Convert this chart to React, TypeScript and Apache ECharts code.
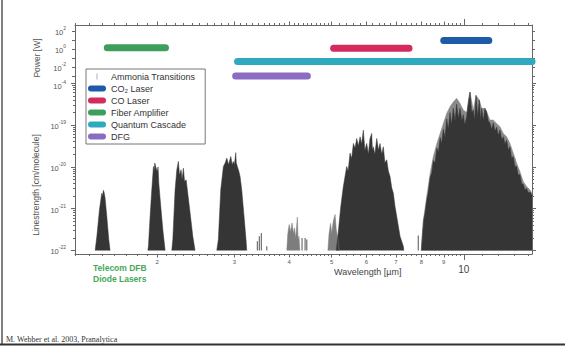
import React, { useEffect, useRef } from 'react';
import * as echarts from 'echarts';

const lg = Math.log10;
const FONT = 'Liberation Sans, Arial, sans-serif';

// ---- Axes ----
const WL_MIN = 1.3; // µm
const WL_MAX = 14.3; // µm
const wlLabelTicks = [2, 3, 4, 5, 6, 7, 8, 9, 10];
const wlMajorTicks = [2, 3, 4, 5, 6, 7, 8, 9];
const wlMinorTicks: number[] = [];
for (let i = 13; i <= 50; i++) wlMinorTicks.push(i / 10);
for (let i = 26; i <= 50; i++) wlMinorTicks.push(i / 5);
for (let i = 11; i <= 14; i++) wlMinorTicks.push(i);

const strengthLabelExp = [-22, -21, -20, -19];
const strengthMajorExp = [-22, -21, -20, -19, -18];
const strengthMinorExp: number[] = [];
for (let n = -22; n <= -19; n++) for (let k = 2; k <= 9; k++) strengthMinorExp.push(n + lg(k));

const powerLabelExp = [2, 0, -2, -4];
const powerTickExp = [2, 1, 0, -1, -2, -3, -4];

// ---- Ammonia transitions: [wavelength µm, log10 linestrength (cm/molecule)] ----
const nh3Band1_5 = [[1.445, -22], [1.458, -21.66], [1.478, -21.02], [1.496, -20.63], [1.502, -20.7], [1.509, -20.56], [1.515, -20.62], [1.522, -20.74], [1.536, -21.18], [1.552, -21.74], [1.563, -22]];
const nh3Band2_0 = [[1.905, -22], [1.911, -21.9], [1.928, -21.18], [1.945, -20.55], [1.962, -19.99], [1.969, -20.1], [1.976, -19.91], [1.99, -20.03], [2.003, -20.11], [2.01, -20.0], [2.018, -20.39], [2.039, -20.95], [2.061, -21.5], [2.086, -22]];
const nh3Band2_3 = [[2.16, -22], [2.172, -21.74], [2.198, -20.55], [2.218, -20.07], [2.236, -19.87], [2.25, -20.2], [2.268, -20.07], [2.28, -20.3], [2.296, -20.03], [2.31, -20.35], [2.329, -20.31], [2.344, -20.55], [2.378, -21.1], [2.412, -21.66], [2.441, -22]];
const nh3Band3_0 = [[2.735, -22], [2.758, -21.74], [2.793, -20.55], [2.832, -19.99], [2.86, -19.9], [2.883, -19.79], [2.91, -19.95], [2.944, -19.75], [2.965, -19.95], [2.984, -19.87], [3.0, -19.95], [3.022, -19.66], [3.03, -19.9], [3.047, -19.99], [3.07, -20.1], [3.091, -20.23], [3.118, -20.55], [3.156, -21.18], [3.189, -21.74], [3.201, -22]];
const nh3Band4_2 = [[3.95, -22], [3.97, -21.6], [4.0, -21.38], [4.03, -21.55], [4.06, -21.34], [4.09, -21.6], [4.11, -21.46], [4.14, -21.7], [4.175, -21.2], [4.19, -21.75], [4.21, -21.66], [4.23, -22]];
const nh3Band5_0 = [[4.9, -22], [4.93, -21.6], [4.97, -21.35], [5.0, -21.6], [5.04, -21.3], [5.088, -21.14], [5.12, -21.5], [5.16, -21.7], [5.2, -22]];
const nh3Band6_1 = [[5.12, -22], [5.17, -21.6], [5.243, -20.95], [5.314, -20.47], [5.409, -19.99], [5.45, -20.1], [5.504, -19.67], [5.55, -19.8], [5.602, -19.44], [5.65, -19.55], [5.702, -19.32], [5.75, -19.5], [5.802, -19.28], [5.85, -19.45], [5.902, -19.12], [5.95, -19.6], [6.008, -19.44], [6.06, -19.7], [6.112, -19.32], [6.167, -19.2], [6.19, -19.6], [6.219, -19.52], [6.27, -19.7], [6.332, -19.32], [6.39, -19.6], [6.442, -19.44], [6.5, -19.7], [6.554, -19.52], [6.61, -19.9], [6.672, -19.83], [6.73, -20.1], [6.79, -20.23], [6.85, -20.5], [6.909, -20.63], [6.97, -20.95], [7.031, -21.18], [7.155, -21.66], [7.28, -21.9], [7.3, -22]];
const nh3Band10Light = [[8.0, -22], [8.03, -21.7], [8.09, -21.26], [8.23, -20.71], [8.38, -20.15], [8.52, -19.75], [8.68, -19.44], [8.83, -19.2], [8.98, -18.96], [9.14, -18.72], [9.3, -18.56], [9.46, -18.45], [9.63, -18.36], [9.8, -18.48], [9.97, -18.64], [10.15, -18.7], [10.33, -18.21], [10.51, -18.64], [10.66, -18.29], [10.85, -18.4], [10.98, -18.6], [11.17, -18.6], [11.27, -18.68], [11.47, -18.88], [11.67, -18.88], [11.88, -18.96], [12.09, -19.04], [12.3, -19.2], [12.52, -19.28], [12.74, -19.44], [12.96, -19.67], [13.19, -19.91], [13.42, -20.11], [13.66, -20.35], [13.9, -20.47], [14.15, -20.55], [14.3, -20.63]];
const nh3Band10Dark = [[8.0, -22], [8.03, -21.75], [8.09, -21.3], [8.16, -21.1], [8.23, -20.8], [8.3, -20.6], [8.38, -20.25], [8.45, -20.15], [8.52, -19.85], [8.6, -19.9], [8.68, -19.55], [8.75, -19.65], [8.83, -19.3], [8.9, -19.45], [8.98, -19.1], [9.06, -19.3], [9.14, -18.85], [9.22, -19.1], [9.3, -18.7], [9.38, -19.0], [9.46, -18.6], [9.55, -18.9], [9.63, -18.5], [9.72, -18.85], [9.8, -18.6], [9.9, -18.9], [9.97, -18.75], [10.05, -19.0], [10.15, -18.8], [10.25, -18.4], [10.33, -18.21], [10.42, -18.7], [10.51, -18.64], [10.58, -18.9], [10.66, -18.29], [10.75, -18.8], [10.85, -18.4], [10.92, -18.9], [10.98, -18.6], [11.08, -18.9], [11.17, -18.6], [11.27, -18.68], [11.37, -18.9], [11.47, -18.95], [11.57, -19.1], [11.67, -18.95], [11.78, -19.15], [11.88, -19.05], [11.98, -19.25], [12.09, -19.12], [12.2, -19.35], [12.3, -19.28], [12.41, -19.45], [12.52, -19.36], [12.63, -19.6], [12.74, -19.52], [12.85, -19.8], [12.96, -19.75], [13.08, -20.0], [13.19, -19.98], [13.3, -20.2], [13.42, -20.18], [13.54, -20.4], [13.66, -20.42], [13.78, -20.55], [13.9, -20.52], [14.02, -20.62], [14.15, -20.6], [14.3, -20.68]];
const nh3LightStripes = [[8.6, -19.7], [8.9, -19.25], [9.22, -18.85], [9.38, -18.7], [9.55, -18.55], [9.72, -18.5], [9.9, -18.6], [11.78, -19.0], [12.2, -19.2], [12.63, -19.42], [13.08, -19.8]];
const nh3IsolatedLines = [[3.385, -21.78], [3.42, -21.66], [3.456, -21.58], [3.556, -21.9], [4.279, -21.7], [4.348, -21.7], [4.386, -21.74], [7.874, -21.64]];
const nh3Gaps = [[10.15, -18.75], [11.37, -18.95]];

// ---- Laser sources ----
const laserNames = ['CO\u2082 Laser', 'CO Laser', 'Fiber Amplifier', 'Quantum Cascade', 'DFG'];
const laserStartUm = [9.0, 5.05, 1.54, 3.05, 3.02];
const laserEndUm = [11.4, 7.5, 2.09, 14.3, 4.4];
const laserPowerW = [9, 1.2, 1.4, 0.04, 0.001];
const laserColors = ['#1d5ba8', '#d42a5c', '#3d9f5b', '#2ea9bd', '#8a6cc2'];

// ---- Layout constants ----
const STRENGTH_MIN = -22.084;
const STRENGTH_MAX = -16.606;
const POWER_MIN = -6;
const POWER_MAX = 2.667;
const DARK = '#353535';
const GREY = '#8a8a8a';
const AXIS = '#666';

const pill = 'path://M3,0 L15,0 A3,3 0 0 1 15,6 L3,6 A3,3 0 0 1 3,0 Z';

function buildOption() {
  const toLog = (arr: number[][]) => arr.map(([w, s]) => [lg(w), s]);
  const area = (data: number[][], color: string) => ({
    type: 'line', name: 'Ammonia Transitions', xAxisIndex: 0, yAxisIndex: 0,
    data: toLog(data), symbol: 'none', silent: true, color,
    lineStyle: { color, width: 0.5 },
    areaStyle: { color, opacity: 1, origin: -22 },
  });
  const sticks = (data: number[][], color: string, width: number) => ({
    type: 'custom', name: 'Ammonia Transitions', xAxisIndex: 0, yAxisIndex: 0, silent: true,
    data: toLog(data),
    renderItem: (_p: any, api: any) => {
      const x = api.value(0);
      const y = api.value(1);
      const a = api.coord([x, -22]);
      const b = api.coord([x, y]);
      return { type: 'line', shape: { x1: a[0], y1: a[1], x2: b[0], y2: b[1] }, style: { stroke: color, lineWidth: width } };
    },
  });
  const wlAxisBase = { type: 'value', gridIndex: 0, min: lg(WL_MIN), max: lg(WL_MAX), splitLine: { show: false } };
  const supRich = {
    b: { fontSize: 7.5, color: '#555', fontFamily: FONT, verticalAlign: 'bottom', lineHeight: 11 },
    s: { fontSize: 5, color: '#555', fontFamily: FONT, verticalAlign: 'top', lineHeight: 11 },
  };

  const series: any[] = [
    area(nh3Band1_5, DARK), area(nh3Band2_0, DARK), area(nh3Band2_3, DARK), area(nh3Band3_0, DARK),
    area(nh3Band4_2, '#7d7d7d'), area(nh3Band5_0, '#7d7d7d'), area(nh3Band6_1, DARK),
    area(nh3Band10Light, GREY), area(nh3Band10Dark, DARK),
    sticks(nh3LightStripes, '#9c9c9c', 1.4),
    sticks(nh3IsolatedLines, '#6f6f6f', 1.2),
    sticks(nh3Gaps, '#ffffff', 1.6),
  ];
  laserNames.forEach((name, i) => {
    series.push({
      type: 'line', name, xAxisIndex: 6, yAxisIndex: 4, symbol: 'none', clip: false, silent: true,
      color: laserColors[i],
      data: [[lg(laserStartUm[i]), lg(laserPowerW[i])], [lg(laserEndUm[i]), lg(laserPowerW[i])]],
      lineStyle: { color: laserColors[i], width: 7, cap: 'round' },
    });
  });

  return {
    animation: false,
    backgroundColor: '#fff',
    grid: [
      { left: 75, right: 33, top: 25, height: 229 },
      { left: 75, right: 33, top: 25, height: 78 },
    ],
    xAxis: [
      {
        ...wlAxisBase, position: 'bottom',
        axisLine: { lineStyle: { color: AXIS, width: 1 } },
        axisTick: { customValues: wlMinorTicks.map(lg), length: 2, lineStyle: { color: AXIS } },
        axisLabel: {
          customValues: wlLabelTicks.map(lg), margin: 5,
          formatter: (v: number) => { const n = Math.round(Math.pow(10, v)); return n === 10 ? '{big|10}' : `{sm|${n}}`; },
          rich: {
            sm: { fontSize: 6, color: '#555', fontFamily: FONT },
            big: { fontSize: 10, color: '#444', fontFamily: FONT, padding: [5, 0, 0, 0] },
          },
        },
      },
      { ...wlAxisBase, position: 'bottom', axisLine: { show: false }, axisLabel: { show: false }, axisTick: { customValues: wlMajorTicks.map(lg), length: 3.5, lineStyle: { color: AXIS } } },
      { ...wlAxisBase, position: 'bottom', axisLine: { show: false }, axisLabel: { show: false }, axisTick: { customValues: [lg(10)], length: 6, lineStyle: { color: AXIS } } },
      { ...wlAxisBase, position: 'top', axisLine: { lineStyle: { color: AXIS, width: 1 } }, axisLabel: { show: false }, axisTick: { customValues: wlMinorTicks.map(lg), length: 2, lineStyle: { color: AXIS } } },
      { ...wlAxisBase, position: 'top', axisLine: { show: false }, axisLabel: { show: false }, axisTick: { customValues: wlMajorTicks.map(lg), length: 3.5, lineStyle: { color: AXIS } } },
      { ...wlAxisBase, position: 'top', axisLine: { show: false }, axisLabel: { show: false }, axisTick: { customValues: [lg(10)], length: 6, lineStyle: { color: AXIS } } },
      { ...wlAxisBase, gridIndex: 1, show: false },
    ],
    yAxis: [
      {
        type: 'value', gridIndex: 0, position: 'left', min: STRENGTH_MIN, max: STRENGTH_MAX, splitLine: { show: false },
        axisLine: { show: true, lineStyle: { color: AXIS, width: 1 } },
        axisTick: { customValues: strengthMinorExp, length: 2, lineStyle: { color: AXIS } },
        axisLabel: { customValues: strengthLabelExp, margin: 9, formatter: (v: number) => `{b|10}{s|${Math.round(v)}}`, rich: supRich },
      },
      {
        type: 'value', gridIndex: 0, position: 'left', min: STRENGTH_MIN, max: STRENGTH_MAX, splitLine: { show: false },
        axisLine: { show: false }, axisLabel: { show: false },
        axisTick: { customValues: strengthMajorExp, length: 4, lineStyle: { color: AXIS } },
      },
      {
        type: 'value', gridIndex: 0, position: 'right', min: STRENGTH_MIN, max: STRENGTH_MAX, splitLine: { show: false },
        axisLine: { show: true, lineStyle: { color: AXIS, width: 1 } }, axisLabel: { show: false },
        axisTick: { customValues: strengthMinorExp, length: 2, lineStyle: { color: AXIS } },
      },
      {
        type: 'value', gridIndex: 0, position: 'right', min: STRENGTH_MIN, max: STRENGTH_MAX, splitLine: { show: false },
        axisLine: { show: false }, axisLabel: { show: false },
        axisTick: { customValues: strengthMajorExp, length: 4, lineStyle: { color: AXIS } },
      },
      {
        type: 'value', gridIndex: 1, position: 'left', min: POWER_MIN, max: POWER_MAX, splitLine: { show: false },
        axisLine: { show: false },
        axisTick: { customValues: powerTickExp, length: 3, lineStyle: { color: AXIS } },
        axisLabel: { customValues: powerLabelExp, margin: 9, formatter: (v: number) => `{b|10}{s|${Math.round(v)}}`, rich: supRich },
      },
      {
        type: 'value', gridIndex: 1, position: 'right', min: POWER_MIN, max: POWER_MAX, splitLine: { show: false },
        axisLine: { show: false }, axisLabel: { show: false },
        axisTick: { customValues: powerTickExp, length: 3, lineStyle: { color: AXIS } },
      },
    ],
    legend: {
      orient: 'vertical', left: 86, top: 69, selectedMode: false,
      backgroundColor: '#fff', borderColor: '#777', borderWidth: 1, borderRadius: 0,
      padding: [3, 10, 3, 2], itemGap: 3, itemWidth: 18, itemHeight: 6,
      textStyle: { fontSize: 9, color: '#333', fontFamily: FONT },
      data: [
        { name: 'Ammonia Transitions', icon: 'path://M0,0L1,0L1,8L0,8Z', itemStyle: { color: '#999', borderWidth: 0 } },
        ...laserNames.map((name, i) => ({ name, icon: pill, itemStyle: { color: laserColors[i], borderWidth: 0 } })),
      ],
    },
    graphic: [
      { type: 'line', shape: { x1: 2, y1: 0, x2: 2, y2: 344 }, style: { stroke: '#555', lineWidth: 1.5 } },
      { type: 'line', shape: { x1: 0, y1: 344.5, x2: 565, y2: 344.5 }, style: { stroke: '#333', lineWidth: 2 } },
      { type: 'text', x: 6, y: 339.5, style: { text: 'M. Webber et al. 2003, Pranalytica', font: '8px "Liberation Serif", "Times New Roman", serif', fill: '#333', verticalAlign: 'middle' } },
      { type: 'text', x: 93, y: 268, style: { text: 'Telecom DFB', font: 'bold 8.5px "Liberation Sans", Arial, sans-serif', fill: '#45a85a', verticalAlign: 'middle' } },
      { type: 'text', x: 93, y: 279, style: { text: 'Diode Lasers', font: 'bold 8.5px "Liberation Sans", Arial, sans-serif', fill: '#45a85a', verticalAlign: 'middle' } },
      { type: 'text', x: 334, y: 272, style: { text: 'Wavelength [\u00b5m]', font: '9px "Liberation Sans", Arial, sans-serif', fill: '#444', verticalAlign: 'middle' } },
      { type: 'text', x: 37, y: 58, rotation: Math.PI / 2, style: { text: 'Power [W]', font: '8.5px "Liberation Sans", Arial, sans-serif', fill: '#555', align: 'center', verticalAlign: 'middle' } },
      { type: 'text', x: 36, y: 185, rotation: Math.PI / 2, style: { text: 'Linestrength [cm/molecule]', font: '8.5px "Liberation Sans", Arial, sans-serif', fill: '#555', align: 'center', verticalAlign: 'middle' } },
    ],
    series,
  };
}

export default function App() {
  const ref = useRef<HTMLDivElement>(null);
  useEffect(() => {
    const chart = echarts.init(ref.current!, null, { renderer: 'svg' });
    chart.setOption(buildOption() as any);
    return () => chart.dispose();
  }, []);
  return <div ref={ref} style={{ position: 'fixed', left: 0, top: 0, width: 565, height: 360, background: '#fff' }} />;
}
